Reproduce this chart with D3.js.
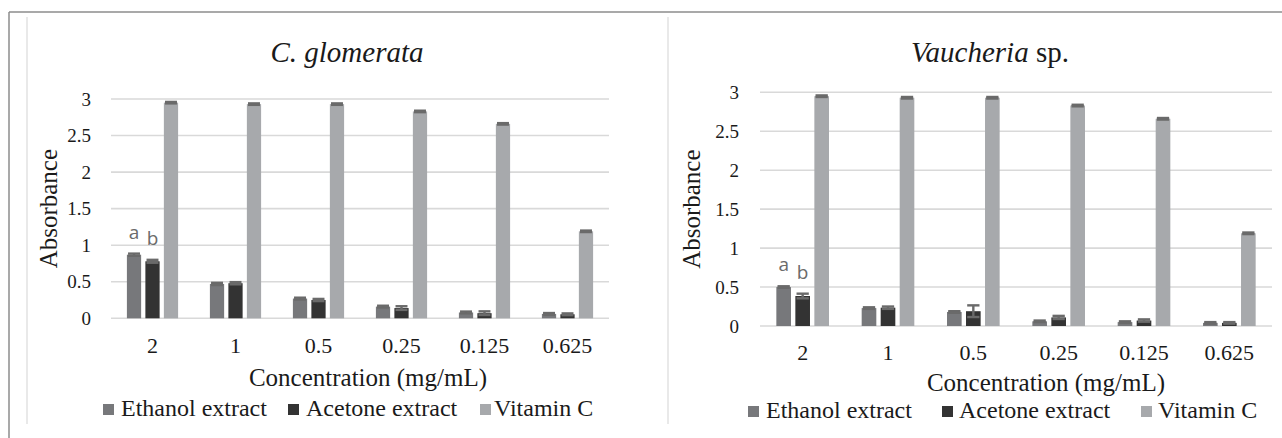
<!DOCTYPE html>
<html>
<head>
<meta charset="utf-8">
<script src="https://cdn.jsdelivr.net/npm/d3@7/dist/d3.min.js"></script>
<style>html,body{margin:0;background:#fff}</style>
</head>
<body>
<svg id="s" width="1282" height="438"></svg>
<script>
// ---------------- data ----------------
const categories = ["2", "1", "0.5", "0.25", "0.125", "0.625"];
const seriesNames = ["Ethanol extract", "Acetone extract", "Vitamin C"];
const yTicks = [0, 0.5, 1, 1.5, 2, 2.5, 3];

// C. glomerata
const glomEthanol    = [0.87, 0.47, 0.27, 0.16, 0.08, 0.06];
const glomEthanolErr = [0.015, 0.015, 0.012, 0.012, 0.012, 0.012];
const glomAcetone    = [0.78, 0.48, 0.25, 0.14, 0.07, 0.055];
const glomAcetoneErr = [0.02, 0.015, 0.015, 0.025, 0.025, 0.012];
const glomVitC       = [2.95, 2.93, 2.93, 2.83, 2.66, 1.19];
const glomVitCErr    = [0.01, 0.01, 0.01, 0.01, 0.01, 0.01];

// Vaucheria sp.
const vauEthanol     = [0.50, 0.23, 0.18, 0.06, 0.05, 0.04];
const vauEthanolErr  = [0.01, 0.01, 0.01, 0.01, 0.01, 0.01];
const vauAcetone     = [0.385, 0.235, 0.19, 0.11, 0.07, 0.04];
const vauAcetoneErr  = [0.03, 0.015, 0.075, 0.02, 0.015, 0.01];
const vauVitC        = [2.95, 2.93, 2.93, 2.83, 2.66, 1.19];
const vauVitCErr     = [0.01, 0.01, 0.01, 0.01, 0.01, 0.01];

const panelTitles = [["C. glomerata", ""], ["Vaucheria", " sp."]];
const annotations = ["a", "b"];
const xTitle = "Concentration (mg/mL)";
const yTitle = "Absorbance";

// ---------------- styling ----------------
const SERIF = "Liberation Serif";
const SANS = "Open Sans";
const colors = ["#77787b", "#333333", "#a7a9ac"];
const errColor = "#6a6a6a";

const svg = d3.select("#s");

function label(x, y, txt, size, anchor, fam) {
  return svg.append("text")
    .style("font-family", fam || SERIF)
    .attr("x", x).attr("y", y)
    .attr("font-size", size)
    .attr("text-anchor", anchor || "start")
    .attr("fill", "#1a1a1a")
    .text(txt);
}

const panels = [
  {
    title: panelTitles[0],
    vals: [glomEthanol, glomAcetone, glomVitC],
    errs: [glomEthanolErr, glomAcetoneErr, glomVitCErr],
    plotL: 111, plotR: 609, yTop: 99, yBot: 318.3,
    yTickX: 91, titleX: 347, titleY: 62, yTitleX: 57,
    xTickY: 353, xTitleX: 368, xTitleY: 386,
    legendY: 416, legSq: [103, 288, 480], legTx: [121, 306, 494]
  },
  {
    title: panelTitles[1],
    vals: [vauEthanol, vauAcetone, vauVitC],
    errs: [vauEthanolErr, vauAcetoneErr, vauVitCErr],
    plotL: 760, plotR: 1272, yTop: 92.3, yBot: 326,
    yTickX: 739, titleX: 990, titleY: 62, yTitleX: 700,
    xTickY: 360, xTitleX: 1046, xTitleY: 391,
    legendY: 418, legSq: [748, 942, 1141], legTx: [766, 959, 1158]
  }
];

// frame lines
svg.append("line").attr("x1", 9).attr("x2", 1282).attr("y1", 12).attr("y2", 12)
  .attr("stroke", "#8c8c8c").attr("stroke-width", 1.5);
svg.append("line").attr("x1", 9).attr("x2", 9).attr("y1", 12).attr("y2", 438)
  .attr("stroke", "#8c8c8c").attr("stroke-width", 1.5);
[27, 668].forEach(x => {
  svg.append("line").attr("x1", x).attr("x2", x).attr("y1", 17).attr("y2", 424)
    .attr("stroke", "#e2e2e2").attr("stroke-width", 1.5);
});

panels.forEach(p => {
  const y = d3.scaleLinear().domain([0, 3]).range([p.yBot, p.yTop]);
  const x0 = d3.scaleBand().domain(categories).range([p.plotL, p.plotR]).padding(0);
  const x1 = d3.scaleBand().domain(seriesNames).range([0, x0.bandwidth()])
    .paddingInner(0.23).paddingOuter(0.86);
  const fmt = d3.format("~g");

  // gridlines
  yTicks.forEach(t => {
    svg.append("line")
      .attr("x1", p.plotL).attr("x2", p.plotR)
      .attr("y1", y(t)).attr("y2", y(t))
      .attr("stroke", "#d9d9d9").attr("stroke-width", 1.6);
  });

  // y tick labels (from the y scale)
  yTicks.forEach(t => label(p.yTickX, y(t) + 6.5, fmt(t), 19, "end"));

  // x tick labels (from the band scale)
  categories.forEach(c => label(x0(c) + x0.bandwidth() / 2, p.xTickY, c, 22, "middle"));

  // bars + error bars
  seriesNames.forEach((s, si) => {
    categories.forEach((c, ci) => {
      const v = p.vals[si][ci], e = p.errs[si][ci];
      const bx = x0(c) + x1(s), bw = x1.bandwidth();
      svg.append("rect")
        .attr("x", bx).attr("y", y(v))
        .attr("width", bw).attr("height", y(0) - y(v))
        .attr("fill", colors[si]);
      const cx = bx + bw / 2, hw = bw * 0.42;
      const eb = svg.append("g").attr("stroke", errColor).attr("stroke-width", 2.4);
      eb.append("line").attr("x1", cx).attr("x2", cx).attr("y1", y(v - e)).attr("y2", y(v + e));
      eb.append("line").attr("x1", cx - hw).attr("x2", cx + hw).attr("y1", y(v + e)).attr("y2", y(v + e));
      eb.append("line").attr("x1", cx - hw).attr("x2", cx + hw).attr("y1", y(v - e)).attr("y2", y(v - e));
    });
  });

  // a / b annotations on the first group
  annotations.forEach((t, i) => {
    const s = seriesNames[i];
    const v = p.vals[i][0] + p.errs[i][0];
    label(x0(categories[0]) + x1(s) + x1.bandwidth() / 2, y(v) - 15, t, 19, "middle", SANS)
      .attr("fill", "#6b6b6b");
  });

  // title
  const tt = label(p.titleX, p.titleY, "", 29, "middle");
  tt.append("tspan").attr("font-style", "italic").text(p.title[0]);
  if (p.title[1]) tt.append("tspan").text(p.title[1]);

  // y title
  label(0, 0, yTitle, 25, "middle")
    .attr("transform", `translate(${p.yTitleX},${(p.yTop + p.yBot) / 2}) rotate(-90)`);

  // x title
  label(p.xTitleX, p.xTitleY, xTitle, 25, "middle");

  // legend
  seriesNames.forEach((s, si) => {
    svg.append("rect").attr("x", p.legSq[si]).attr("y", p.legendY - 12)
      .attr("width", 11).attr("height", 11).attr("fill", colors[si]);
    label(p.legTx[si], p.legendY, s, 24, "start");
  });
});
</script>
</body>
</html>
